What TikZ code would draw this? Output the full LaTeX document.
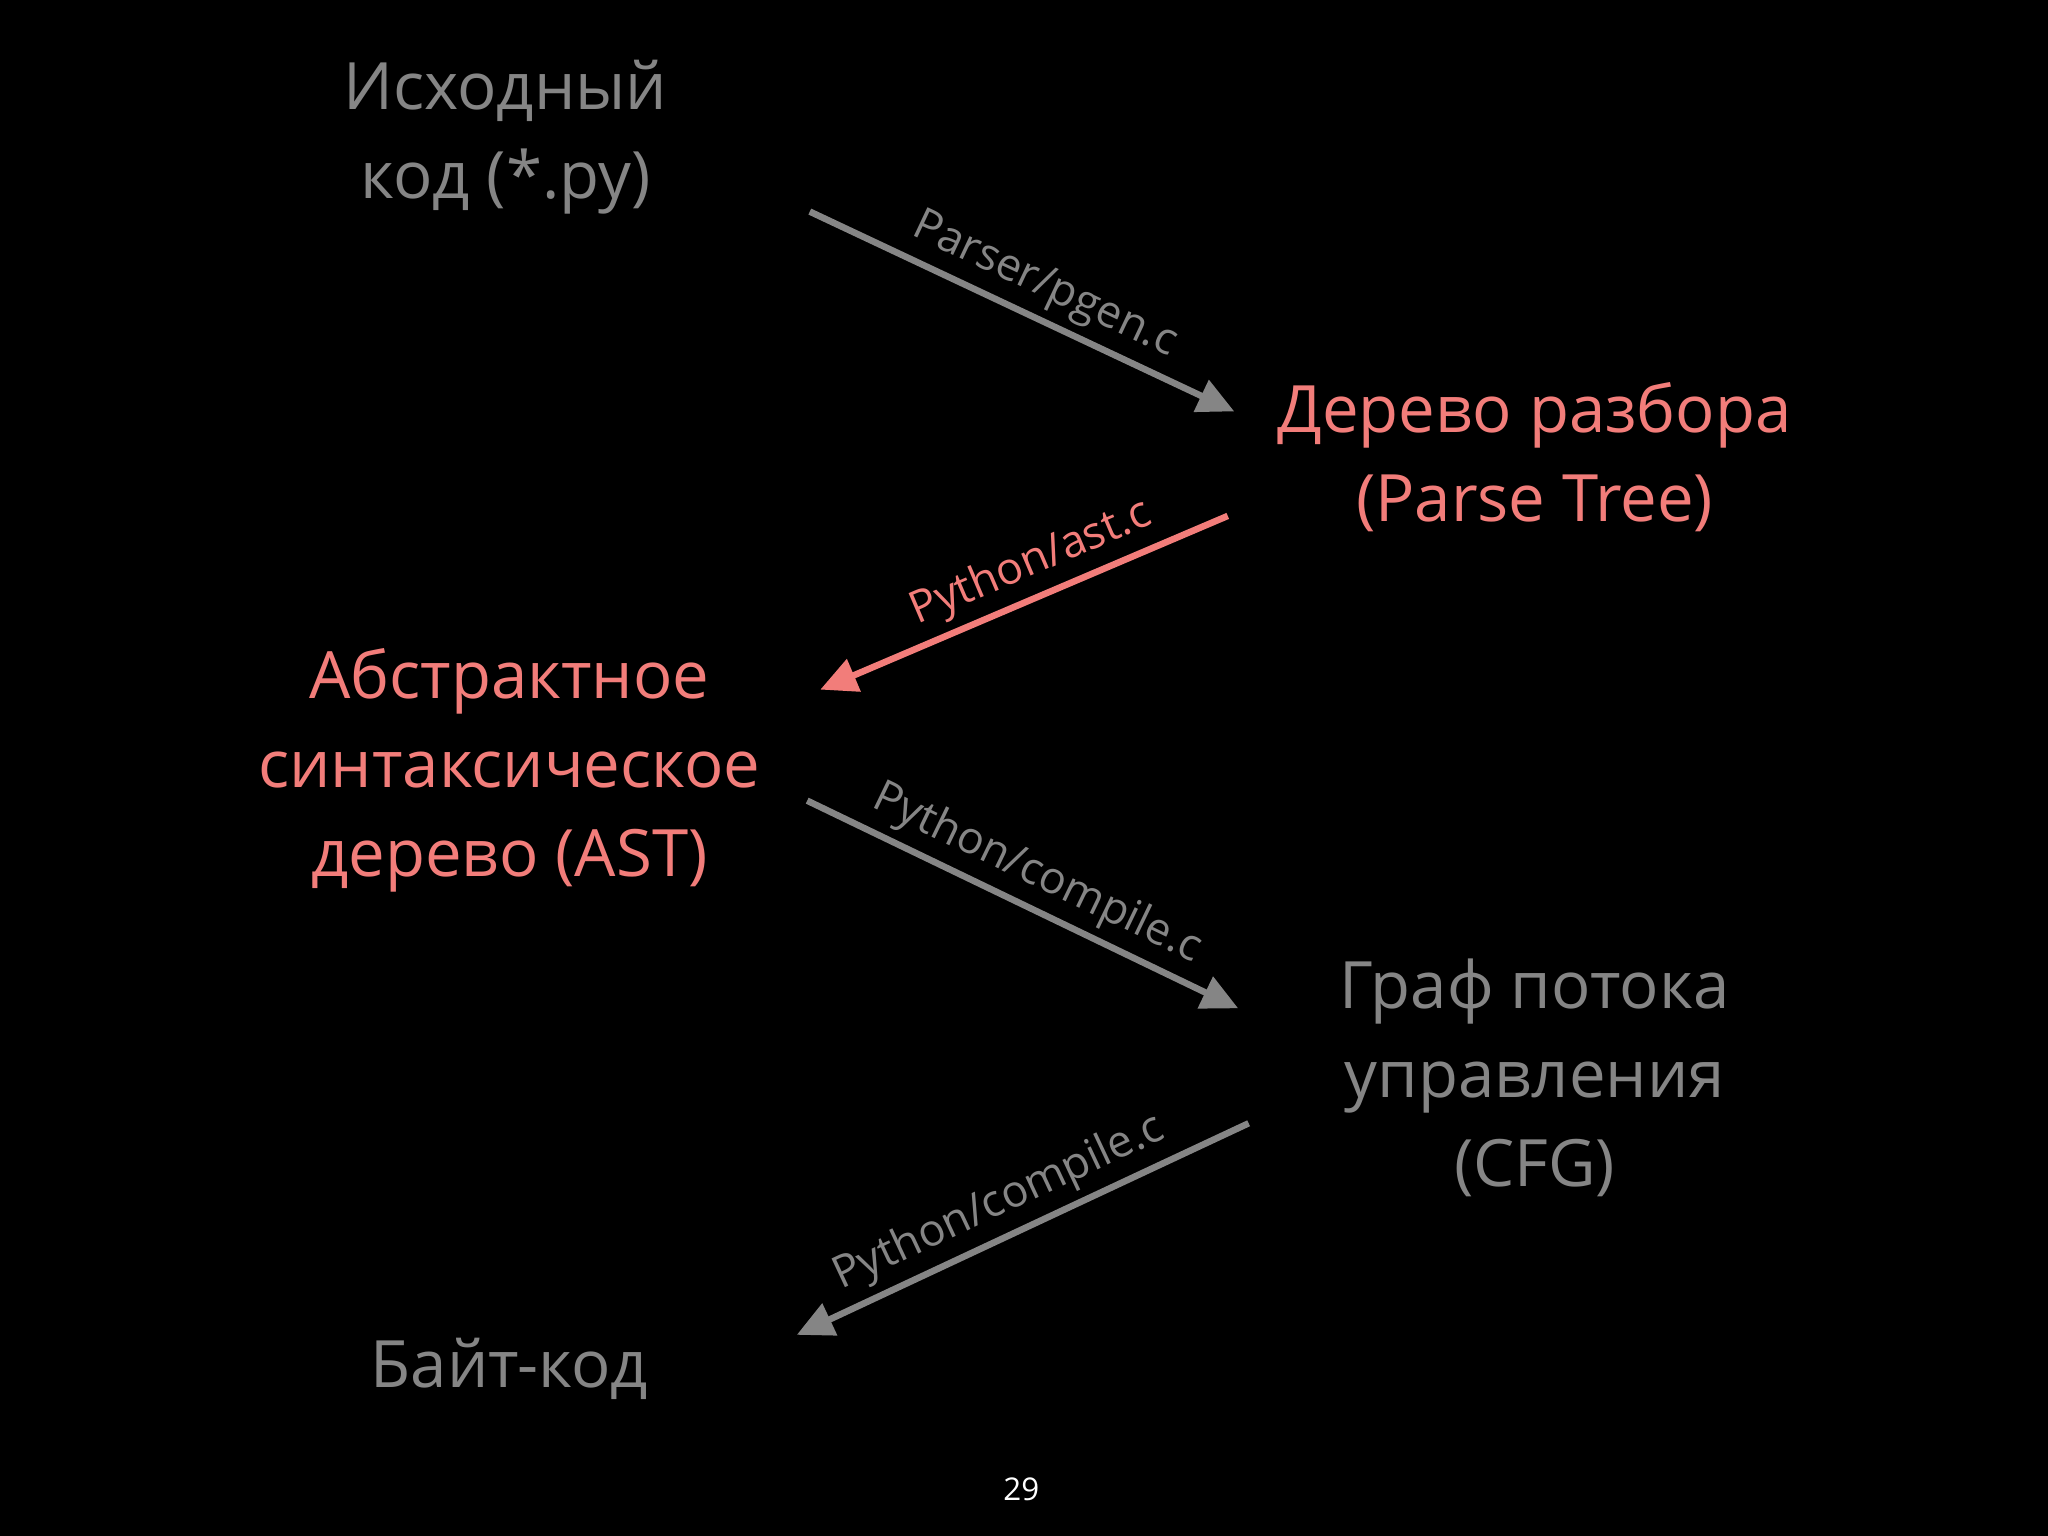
\documentclass[tikz,border=0pt]{standalone}
\usepackage{fontspec}
\setmainfont{Open Sans}
\usetikzlibrary{arrows.meta}
\definecolor{gr}{HTML}{858585}
\definecolor{sal}{HTML}{F27D7A}
\begin{document}
\begin{tikzpicture}[x=0.5pt,y=-0.5pt,
  big/.style={align=center,font=\fontsize{25}{34}\selectfont},
  lab/.style={font=\fontsize{17}{20}\selectfont,sloped,above,inner sep=3pt},
  arr/.style={line width=2.5pt,-{Triangle[length=14pt,width=13pt]}}]
\fill[black] (0,0) rectangle (1568,1176);
\node[big,text=gr] (src) at (387,105) {Исходный\\код (*.py)};
\node[big,text=sal] (pt) at (1175,350) {Дерево разбора\\(Parse Tree)};
\node[big,text=sal] (ast) at (390,590) {Абстрактное\\синтаксическое\\дерево (AST)};
\node[big,text=gr] (cfg) at (1175,825) {Граф потока\\управления\\(CFG)};
\node[big,text=gr] (bc) at (390,1048) {Байт-код};
\node[text=white,font=\fontsize{12}{14}\selectfont] (pg) at (782,1140) {29};
\coordinate (a1) at (620,162); \coordinate (b1) at (945,315);
\coordinate (a2) at (940,395); \coordinate (b2) at (628,528);
\coordinate (a3) at (618,613); \coordinate (b3) at (948,772);
\coordinate (a4) at (956,860); \coordinate (b4) at (610,1022);
\draw[arr,gr] (a1) -- node[lab,text=gr,pos=0.52]{Parser/pgen.c} (b1);
\draw[arr,sal] (a2) -- node[lab,text=sal,pos=0.45]{Python/ast.c} (b2);
\draw[arr,gr] (a3) -- node[lab,text=gr,pos=0.5]{Python/compile.c} (b3);
\draw[arr,gr] (a4) -- node[lab,text=gr,pos=0.52]{Python/compile.c} (b4);
\end{tikzpicture}
\end{document}
